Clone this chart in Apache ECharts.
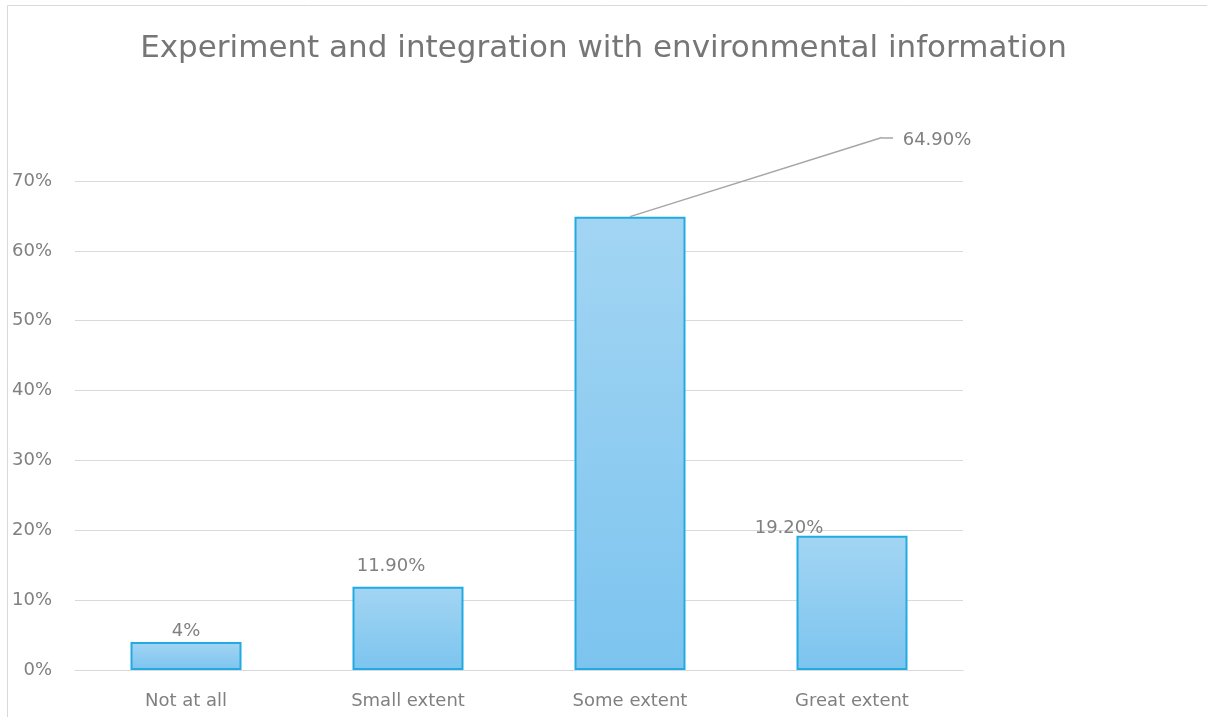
<!DOCTYPE html>
<html>
<head>
<meta charset="utf-8">
<script src="https://cdn.jsdelivr.net/npm/echarts@6/dist/echarts.min.js"></script>
<style>
  html, body { margin: 0; padding: 0; background: #fff; }
  #chart { width: 1207px; height: 717px; }
</style>
</head>
<body>
<div id="chart"></div>
<script>
// Survey responses, as percentages
const categories = ['Not at all', 'Small extent', 'Some extent', 'Great extent'];
const values = [4, 11.9, 64.9, 19.2];
const valueLabels = ['4%', '11.90%', '64.90%', '19.20%'];
const yTicks = [0, 10, 20, 30, 40, 50, 60, 70];

const FONT = '"DejaVu Sans", sans-serif';
const TEXT = '#808080';
const LEADER = '#a6a6a6';

// label offsets relative to each bar's default "top" label position
const labelShift = [
  { dx: 0, dy: 2 },
  { dx: -17, dy: -8 },
  { dx: 307, dy: -63 },
  { dx: -63, dy: 5 }
];

// the tallest bar's label sits out to the right, joined by a leader line
const calloutIndex = 2;
const calloutElbow = { x: 882, y: 137.5 };
const calloutEnd = { x: 893, y: 137.5 };

const chart = echarts.init(document.getElementById('chart'));
chart.setOption({
  animation: false,
  backgroundColor: '#fff',
  title: {
    text: 'Experiment and integration with environmental information',
    left: 'center',
    top: 28,
    textStyle: { fontFamily: FONT, fontSize: 31, fontWeight: 'normal', color: '#767676' }
  },
  graphic: [{
    type: 'rect',
    shape: { x: 7.5, y: 5.5, width: 1300, height: 800 },
    style: { fill: 'none', stroke: '#d9d9d9', lineWidth: 1 },
    silent: true
  }],
  grid: { left: 75, right: 244, top: 181, bottom: 47, containLabel: false },
  xAxis: {
    type: 'category',
    data: categories,
    axisLine: { show: true, lineStyle: { color: '#d9d9d9', width: 1 } },
    axisTick: { show: false },
    axisLabel: { fontFamily: FONT, fontSize: 18, color: TEXT, margin: 22 }
  },
  yAxis: {
    type: 'value',
    min: yTicks[0],
    max: yTicks[yTicks.length - 1],
    interval: 10,
    axisLine: { show: false },
    axisTick: { show: false },
    splitLine: { lineStyle: { color: '#d9d9d9', width: 1 } },
    axisLabel: {
      fontFamily: FONT, fontSize: 18, color: TEXT, margin: 23,
      formatter: v => v + '%'
    }
  },
  series: [{
    type: 'bar',
    data: values,
    barWidth: '50%',
    itemStyle: {
      color: new echarts.graphic.LinearGradient(0, 0, 0, 1, [
        { offset: 0, color: '#a3d5f3' },
        { offset: 1, color: '#7cc4ef' }
      ]),
      borderColor: '#22aae2',
      borderWidth: 2
    },
    label: {
      show: true,
      position: 'top',
      distance: 4,
      fontFamily: FONT,
      fontSize: 18,
      color: TEXT,
      formatter: p => valueLabels[p.dataIndex]
    },
    labelLayout: p => labelShift[p.dataIndex],
    markLine: {
      silent: true,
      symbol: 'none',
      label: { show: false },
      lineStyle: { color: LEADER, width: 1.5, type: 'solid' },
      data: [
        [
          { coord: [categories[calloutIndex], values[calloutIndex]] },
          calloutElbow
        ],
        [calloutElbow, calloutEnd]
      ]
    }
  }]
});
</script>
</body>
</html>
